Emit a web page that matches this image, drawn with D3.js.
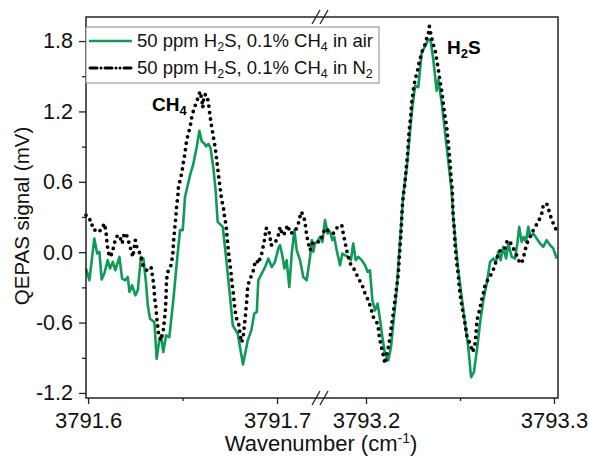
<!DOCTYPE html>
<html>
<head>
<meta charset="utf-8">
<title>QEPAS spectra</title>
<script src="https://d3js.org/d3.v7.min.js"></script>
<style>
  body { margin: 0; background: #fff; font-family: "Liberation Sans", Arial, sans-serif; }
  svg text { font-family: "Liberation Sans", Arial, sans-serif; }
</style>
</head>
<body>
<div id="chart"></div>
<script>
// 50 ppm H2S, 0.1% CH4 in air (wavenumber cm-1, signal mV)
var airWn = [3791.5989, 3791.6007, 3791.6033, 3791.6048, 3791.6060, 3791.6072, 3791.6086, 3791.6104, 3791.6116, 3791.6131,
  3791.6144, 3791.6166, 3791.6180, 3791.6197, 3791.6210, 3791.6219, 3791.6233, 3791.6250, 3791.6263, 3791.6280,
  3791.6293, 3791.6307, 3791.6316, 3791.6328, 3791.6351, 3791.6363, 3791.6377, 3791.6386, 3791.6398, 3791.6413,
  3791.6430, 3791.6451, 3791.6475, 3791.6487, 3791.6501, 3791.6513, 3791.6540, 3791.6557, 3791.6575, 3791.6589,
  3791.6602, 3791.6614, 3791.6624, 3791.6637, 3791.6648, 3791.6663, 3791.6675, 3791.6686, 3791.6713, 3791.6730,
  3791.6748, 3791.6766, 3791.6792, 3791.6820, 3791.6845, 3791.6864, 3791.6880, 3791.6893, 3791.6901, 3791.6919,
  3791.6937, 3791.6954, 3791.6972, 3791.6989, 3791.7007, 3791.7016, 3791.7028, 3791.7039, 3791.7051, 3791.7065,
  3791.7078, 3791.7092, 3791.7104, 3791.7122, 3791.7139, 3791.7157, 3791.7175, 3791.7184, 3791.7192, 3791.7201,
  3791.7212,
  3793.1755, 3793.1768, 3793.1782, 3793.1796, 3793.1809, 3793.1821, 3793.1831, 3793.1844, 3793.1862, 3793.1874,
  3793.1888, 3793.1906, 3793.1920, 3793.1932, 3793.1945, 3793.1959, 3793.1977, 3793.1995, 3793.2009, 3793.2021,
  3793.2034, 3793.2048, 3793.2062, 3793.2074, 3793.2087, 3793.2101, 3793.2119, 3793.2133, 3793.2145, 3793.2163,
  3793.2181, 3793.2198, 3793.2218, 3793.2243, 3793.2261, 3793.2278, 3793.2296, 3793.2314, 3793.2331, 3793.2343,
  3793.2358, 3793.2376, 3793.2385, 3793.2403, 3793.2429, 3793.2456, 3793.2464, 3793.2479, 3793.2491, 3793.2509,
  3793.2527, 3793.2544, 3793.2559, 3793.2574, 3793.2592, 3793.2606, 3793.2624, 3793.2642, 3793.2660, 3793.2677,
  3793.2691, 3793.2704, 3793.2716, 3793.2730, 3793.2745, 3793.2757, 3793.2775, 3793.2793, 3793.2805, 3793.2815,
  3793.2828, 3793.2840, 3793.2851, 3793.2863, 3793.2876, 3793.2890, 3793.2908, 3793.2926, 3793.2943, 3793.2961,
  3793.2979, 3793.2996, 3793.3014];
var airSig = [-0.139, -0.239, 0.117, -0.011, 0.003, -0.233, -0.182, -0.068, -0.139, -0.083,
  -0.154, -0.040, -0.225, -0.239, -0.211, -0.339, -0.282, -0.368, -0.325, -0.040,
  -0.054, -0.268, -0.453, -0.567, -0.596, -0.909, -0.752, -0.709, -0.852, -0.709,
  -0.724, -0.410, 0.003, 0.188, 0.188, 0.470, 0.658, 0.752, 0.897, 1.034,
  0.944, 0.929, 0.902, 0.923, 0.889, 0.718, 0.530, 0.259, 0.216, -0.040,
  -0.325, -0.624, -0.695, -0.957, -0.752, -0.667, -0.521, -0.510, -0.239, -0.182,
  -0.126, -0.054, -0.126, -0.083, 0.032, 0.060, -0.026, -0.139, -0.068, -0.297,
  -0.011, 0.188, 0.017, -0.068, -0.211, -0.239, -0.040, 0.103, 0.003, 0.074,
  0.088,
  0.131, 0.088, 0.274, 0.160, 0.174, 0.103, 0.131, 0.017, -0.111, -0.011,
  -0.026, -0.040, -0.068, 0.074, -0.068, -0.040, -0.068, -0.111, -0.168, -0.154,
  -0.410, -0.496, -0.438, -0.567, -0.724, -0.866, -0.923, -0.809, -0.609, -0.325,
  0.103, 0.487, 0.735, 1.188, 1.419, 1.406, 1.698, 1.755, 1.812, 1.812,
  1.641, 1.376, 1.470, 1.271, 0.900, 0.513, 0.302, 0.045, -0.154, -0.382,
  -0.609, -0.809, -1.066, -1.023, -0.809, -0.609, -0.410, -0.268, -0.083, -0.054,
  -0.083, 0.003, -0.068, 0.045, -0.054, 0.074, -0.040, -0.054, 0.074, 0.216,
  0.088, 0.131, 0.088, 0.216, 0.131, 0.160, 0.117, 0.074, 0.045, 0.103,
  0.060, 0.032, -0.054];

// 50 ppm H2S, 0.1% CH4 in N2
var n2Wn = [3791.5989, 3791.6007, 3791.6016, 3791.6028, 3791.6039, 3791.6053, 3791.6069, 3791.6086, 3791.6095, 3791.6099,
  3791.6104, 3791.6113, 3791.6127, 3791.6139, 3791.6148, 3791.6166, 3791.6180, 3791.6192, 3791.6201, 3791.6215,
  3791.6228, 3791.6237, 3791.6250, 3791.6258, 3791.6268, 3791.6280, 3791.6293, 3791.6311, 3791.6333, 3791.6342,
  3791.6348, 3791.6351, 3791.6354, 3791.6360, 3791.6363, 3791.6369, 3791.6374, 3791.6386, 3791.6398, 3791.6404,
  3791.6409, 3791.6413, 3791.6415, 3791.6422, 3791.6439, 3791.6448, 3791.6453, 3791.6457, 3791.6462, 3791.6466,
  3791.6469, 3791.6475, 3791.6478, 3791.6487, 3791.6496, 3791.6504, 3791.6513, 3791.6522, 3791.6540, 3791.6549,
  3791.6562, 3791.6575, 3791.6586, 3791.6593, 3791.6602, 3791.6607, 3791.6614, 3791.6628, 3791.6637, 3791.6646,
  3791.6654, 3791.6663, 3791.6672, 3791.6681, 3791.6689, 3791.6698, 3791.6707, 3791.6716, 3791.6721, 3791.6730,
  3791.6734, 3791.6739, 3791.6744, 3791.6751, 3791.6757, 3791.6762, 3791.6769, 3791.6774, 3791.6783, 3791.6797,
  3791.6804, 3791.6812, 3791.6820, 3791.6832, 3791.6840, 3791.6844, 3791.6853, 3791.6866, 3791.6875, 3791.6884,
  3791.6893, 3791.6901, 3791.6919, 3791.6928, 3791.6937, 3791.6940, 3791.6954, 3791.6963, 3791.6968, 3791.6989,
  3791.7007, 3791.7016, 3791.7028, 3791.7039, 3791.7057, 3791.7069, 3791.7095, 3791.7113, 3791.7127, 3791.7139,
  3791.7148, 3791.7157, 3791.7166, 3791.7175, 3791.7192, 3791.7210,
  3793.1755, 3793.1773, 3793.1782, 3793.1809, 3793.1826, 3793.1849, 3793.1871, 3793.1879, 3793.1888, 3793.1897,
  3793.1906, 3793.1920, 3793.1941, 3793.1959, 3793.1977, 3793.1995, 3793.2012, 3793.2027, 3793.2039, 3793.2057,
  3793.2065, 3793.2071, 3793.2080, 3793.2092, 3793.2101, 3793.2110, 3793.2119, 3793.2128, 3793.2137, 3793.2145,
  3793.2154, 3793.2163, 3793.2172, 3793.2176, 3793.2181, 3793.2186, 3793.2190, 3793.2193, 3793.2198, 3793.2207,
  3793.2213, 3793.2220, 3793.2225, 3793.2230, 3793.2238, 3793.2243, 3793.2252, 3793.2261, 3793.2273, 3793.2284,
  3793.2296, 3793.2305, 3793.2314, 3793.2323, 3793.2331, 3793.2337, 3793.2344, 3793.2355, 3793.2367, 3793.2376,
  3793.2385, 3793.2394, 3793.2403, 3793.2411, 3793.2420, 3793.2429, 3793.2435, 3793.2441, 3793.2447, 3793.2452,
  3793.2459, 3793.2461, 3793.2464, 3793.2470, 3793.2473, 3793.2482, 3793.2491, 3793.2496, 3793.2504, 3793.2514,
  3793.2527, 3793.2536, 3793.2553, 3793.2568, 3793.2580, 3793.2585, 3793.2592, 3793.2606, 3793.2615, 3793.2624,
  3793.2633, 3793.2651, 3793.2669, 3793.2686, 3793.2695, 3793.2709, 3793.2722, 3793.2739, 3793.2752, 3793.2766,
  3793.2784, 3793.2798, 3793.2810, 3793.2828, 3793.2840, 3793.2851, 3793.2863, 3793.2881, 3793.2899, 3793.2917,
  3793.2935, 3793.2943, 3793.2961, 3793.2975, 3793.2988, 3793.3005, 3793.3019];
var n2Sig = [0.316, 0.297, 0.231, 0.231, 0.174, 0.179, 0.188, 0.245, 0.174, 0.103,
  0.032, -0.040, -0.011, 0.074, 0.131, 0.145, 0.074, 0.160, 0.160, 0.088,
  0.017, -0.040, 0.103, 0.045, 0.017, -0.040, -0.126, -0.154, -0.126, -0.211,
  -0.282, -0.353, -0.410, -0.481, -0.553, -0.638, -0.709, -0.752, -0.667, -0.581,
  -0.496, -0.368, -0.239, -0.168, -0.111, -0.026, 0.103, 0.174, 0.259, 0.331,
  0.402, 0.470, 0.547, 0.615, 0.675, 0.761, 0.846, 0.957, 1.068, 1.154,
  1.231, 1.282, 1.342, 1.370, 1.299, 1.231, 1.342, 1.342, 1.274, 1.156,
  1.071, 0.985, 0.900, 0.786, 0.675, 0.558, 0.444, 0.387, 0.316, 0.231,
  0.160, 0.074, -0.011, -0.097, -0.182, -0.268, -0.353, -0.438, -0.553, -0.609,
  -0.692, -0.769, -0.735, -0.553, -0.410, -0.310, -0.239, -0.197, -0.154, -0.083,
  -0.068, -0.097, -0.011, 0.060, 0.131, 0.203, 0.203, 0.131, 0.060, 0.074,
  0.145, 0.216, 0.145, 0.160, 0.231, 0.160, 0.174, 0.245, 0.344, 0.316,
  0.259, 0.145, 0.074, 0.017, 0.088, 0.088,
  0.088, 0.160, 0.203, 0.174, 0.160, 0.216, 0.231, 0.160, 0.088, 0.017,
  -0.040, -0.111, -0.154, -0.225, -0.268, -0.353, -0.410, -0.481, -0.553, -0.596,
  -0.638, -0.724, -0.795, -0.880, -0.951, -0.880, -0.809, -0.724, -0.609, -0.524,
  -0.410, -0.297, -0.182, -0.068, 0.045, 0.160, 0.274, 0.387, 0.479, 0.587,
  0.701, 0.815, 0.929, 1.043, 1.156, 1.271, 1.385, 1.470, 1.541, 1.626,
  1.698, 1.741, 1.769, 1.826, 1.855, 1.926, 1.869, 1.784, 1.726, 1.641,
  1.556, 1.456, 1.370, 1.271, 1.156, 1.071, 0.972, 0.872, 0.758, 0.644,
  0.530, 0.416, 0.302, 0.188, 0.077, -0.083, -0.197, -0.297, -0.396, -0.496,
  -0.609, -0.709, -0.780, -0.852, -0.780, -0.695, -0.567, -0.481, -0.410, -0.353,
  -0.282, -0.225, -0.182, -0.111, -0.054, 0.003, 0.032, 0.032, 0.103, 0.088,
  0.032, -0.011, -0.068, -0.097, -0.026, 0.045, 0.103, 0.160, 0.216, 0.259,
  0.331, 0.402, 0.416, 0.344, 0.274, 0.216, 0.160];

var xMajor = [3791.6, 3791.7, 3793.2, 3793.3];
var xMinor = [3791.65, 3793.25];
var yMajor = [-1.2, -0.6, 0.0, 0.6, 1.2, 1.8];
var yMinor = [-0.9, -0.3, 0.3, 0.9, 1.5];

var width = 590, height = 458;
var plotL = 86, plotR = 558, plotT = 17, plotB = 398;
var breakX = 320;
var green = "#0f9a58";
var fmt = function(d) { return d3.format(".1f")(d).replace("\u2212", "-"); };

var svg = d3.select("#chart").append("svg")
  .attr("width", width).attr("height", height);

// broken x axis: two segments sharing the break position
var x = d3.scaleLinear()
  .domain([3791.5989, 3791.72275, 3793.17553, 3793.30213])
  .range([plotL, breakX, breakX, plotR]);
var y = d3.scaleLinear().domain([-1.243, 2.005]).range([plotB, plotT]);

// axes
var xAx = svg.append("g").attr("transform", "translate(0," + plotB + ")")
  .call(d3.axisBottom(x).tickValues(xMajor).tickSize(6).tickPadding(8).tickFormat(fmt));
svg.append("g").attr("transform", "translate(0," + plotB + ")")
  .call(d3.axisBottom(x).tickValues(xMinor).tickSize(3).tickFormat(""));
var yAx = svg.append("g").attr("transform", "translate(" + plotL + ",0)")
  .call(d3.axisLeft(y).tickValues(yMajor).tickSize(7).tickPadding(6).tickFormat(fmt));
svg.append("g").attr("transform", "translate(" + plotL + ",0)")
  .call(d3.axisLeft(y).tickValues(yMinor).tickSize(4).tickFormat(""));

svg.selectAll(".domain").remove();
svg.selectAll(".tick line").attr("stroke", "#222").attr("stroke-width", 1.3);
xAx.selectAll(".tick text").style("font-size", "22px").attr("fill", "#111");
yAx.selectAll(".tick text").style("font-size", "21.5px").attr("fill", "#111");

var line = d3.line()
  .x(function(d) { return x(d[0]); })
  .y(function(d) { return y(d[1]); });

var airData = airWn.map(function(w, i) { return [w, airSig[i]]; });
var n2Data = n2Wn.map(function(w, i) { return [w, n2Sig[i]]; });

svg.append("path").datum(airData)
  .attr("d", line)
  .attr("fill", "none")
  .attr("stroke", green)
  .attr("stroke-width", 2.6)
  .attr("stroke-linejoin", "round");

svg.append("path").datum(n2Data)
  .attr("d", line)
  .attr("fill", "none")
  .attr("stroke", "#000")
  .attr("stroke-width", 3.8)
  .attr("stroke-linecap", "round")
  .attr("stroke-dasharray", "0 6.5");

// frame
svg.append("rect")
  .attr("x", plotL).attr("y", plotT)
  .attr("width", plotR - plotL).attr("height", plotB - plotT)
  .attr("fill", "none").attr("stroke", "#222").attr("stroke-width", 1.5);

// break marks
[plotT, plotB].forEach(function(yy) {
  [-4, 4].forEach(function(dx) {
    svg.append("line")
      .attr("x1", breakX + dx - 4).attr("y1", yy + 7)
      .attr("x2", breakX + dx + 4).attr("y2", yy - 7)
      .attr("stroke", "#222").attr("stroke-width", 1.3);
  });
});

// legend
var leg = svg.append("g");
leg.append("rect").attr("x", plotL).attr("y", 27).attr("width", 293).attr("height", 56)
  .attr("fill", "#fff").attr("stroke", "#888").attr("stroke-width", 1);
leg.append("line").attr("x1", 89).attr("x2", 132).attr("y1", 41).attr("y2", 41)
  .attr("stroke", green).attr("stroke-width", 2.6);
leg.append("line").attr("x1", 90).attr("x2", 132).attr("y1", 68).attr("y2", 68)
  .attr("stroke", "#000").attr("stroke-width", 3).attr("stroke-linecap", "round")
  .attr("stroke-dasharray", "7 4 0 4 7 4 0 4 0 4");

function legendText(yy, tail, tailSub) {
  var t = leg.append("text").attr("x", 137).attr("y", yy).style("font-size", "18.5px").attr("fill", "#111");
  t.append("tspan").text("50 ppm H");
  t.append("tspan").attr("dy", 4).style("font-size", "12.5px").text("2");
  t.append("tspan").attr("dy", -4).text("S, 0.1% CH");
  t.append("tspan").attr("dy", 4).style("font-size", "12.5px").text("4");
  t.append("tspan").attr("dy", -4).text(tail);
  if (tailSub) t.append("tspan").attr("dy", 4).style("font-size", "12.5px").text(tailSub);
}
legendText(47, " in air", null);
legendText(74, " in N", "2");

// peak labels
var ch4 = svg.append("text").attr("x", 152).attr("y", 111).style("font-size", "19px").style("font-weight", "bold");
ch4.append("tspan").text("CH");
ch4.append("tspan").attr("dy", 4).style("font-size", "13px").text("4");
var h2s = svg.append("text").attr("x", 447).attr("y", 54).style("font-size", "19px").style("font-weight", "bold");
h2s.append("tspan").text("H");
h2s.append("tspan").attr("dy", 4).style("font-size", "13px").text("2");
h2s.append("tspan").attr("dy", -4).text("S");

// axis titles
var xt = svg.append("text").attr("x", 321).attr("y", 451).attr("text-anchor", "middle").style("font-size", "22px").attr("fill", "#111");
xt.append("tspan").text("Wavenumber (cm");
xt.append("tspan").attr("dy", -8).style("font-size", "14px").text("-1");
xt.append("tspan").attr("dy", 8).text(")");

svg.append("text")
  .attr("transform", "translate(29,216) rotate(-90)")
  .attr("text-anchor", "middle")
  .style("font-size", "20.5px").attr("fill", "#111")
  .text("QEPAS signal (mV)");
</script>
</body>
</html>
